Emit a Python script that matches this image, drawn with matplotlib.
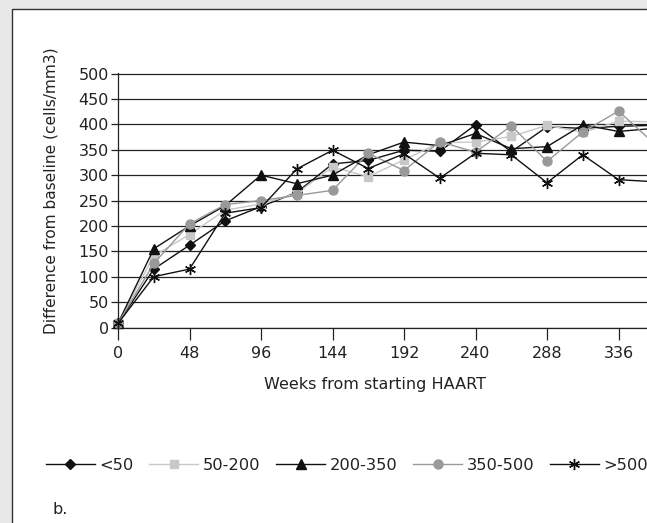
import matplotlib
matplotlib.use("Agg")
import matplotlib.pyplot as plt
from matplotlib.patches import Rectangle

weeks = [0, 24, 48, 72, 96, 120, 144, 168, 192, 216, 240, 264, 288, 312, 336, 360]

lt50 = [8, 115, 162, 210, 238, 266, 322, 329, 349, 347, 399, 346, 395, 392, 396, 398]
g50_200 = [8, 141, 183, 231, 243, 264, 316, 297, 330, 364, 365, 376, 398, 384, 406, 405]
g200_350 = [8, 155, 200, 240, 300, 283, 300, 340, 365, 358, 382, 352, 356, 399, 386, 392]
g350_500 = [8, 126, 204, 242, 250, 260, 270, 343, 309, 366, 345, 397, 327, 385, 426, 362]
gt500 = [8, 100, 115, 225, 236, 312, 349, 313, 342, 294, 343, 340, 285, 340, 291, 287]

labels = ["<50", "50-200", "200-350", "350-500", ">500"]
yticks = list(range(0, 501, 50))
xticks = list(range(0, 337, 48))

plt.rcParams["font.family"] = ["DejaVu Sans"]
txt = "#222222"
fs = 11.5

fig = plt.figure(figsize=(6.47, 5.23), dpi=100)
fig.patch.set_facecolor("#e8e8e8")
fig.patches.append(Rectangle((12 / 647, -0.02), 1.0, 1.02 - 9 / 523,
                             transform=fig.transFigure, facecolor="white",
                             edgecolor="#333333", lw=1.0, zorder=-1))

ax = fig.add_axes([118 / 647, 1 - 327.5 / 523, 384 * 1.4896 / 647, 254.5 / 523])
ax.set_zorder(1)
ax.set_facecolor("white")

# series styles: (values, color, marker, size)
styles = [
    (lt50, "#111111", "D", 5.2),
    (g50_200, "#c8c8c8", "s", 6),
    (g200_350, "#111111", "^", 7.5),
    (g350_500, "#999999", "o", 6.5),
    (gt500, "#111111", (6, 2, 0), 8),
]
handles = []
for vals, c, m, ms in styles:
    ln, = ax.plot(weeks, vals, color=c, lw=1.0, marker=m, markersize=ms,
                  markerfacecolor=c, markeredgecolor=c, markeredgewidth=1.0,
                  clip_on=False, zorder=3)
    handles.append(ln)

ax.set_xlim(0, 384)
ax.set_ylim(0, 501)
ax.set_yticks(yticks)
ax.set_xticks(xticks)
ax.grid(axis="y", color="#222222", lw=0.9)
ax.grid(axis="x", visible=False)
for s in ["top", "right"]:
    ax.spines[s].set_visible(False)
for s in ["left", "bottom"]:
    ax.spines[s].set_color("#222222")
    ax.spines[s].set_linewidth(0.9)
ax.tick_params(axis="x", length=8.6, width=0.9, color="#222222", pad=5,
               labelsize=fs, labelcolor=txt)
ax.tick_params(axis="y", length=5, width=0.9, color="#222222", pad=1.5,
               labelsize=fs, labelcolor=txt)

fig.text(375 / 647, 1 - 384.5 / 523, "Weeks from starting HAART",
         ha="center", va="center", fontsize=fs, color=txt)
fig.text(51 / 647, 1 - 191 / 523, "Difference from baseline (cells/mm3)",
         ha="center", va="center", rotation=90, fontsize=11.1, color=txt)

fig.legend(handles, labels, ncol=5, loc="center left",
           bbox_to_anchor=(46 / 647, 1 - 465 / 523), frameon=False,
           borderpad=0, borderaxespad=0, handlelength=3.0, handletextpad=0.3,
           columnspacing=0.96, fontsize=11.7, labelcolor=txt)

fig.text(52 / 647, 1 - 510 / 523, "b.", ha="left", va="center",
         fontsize=fs, color=txt)

fig.savefig("out.png", dpi=100, facecolor=fig.get_facecolor())
